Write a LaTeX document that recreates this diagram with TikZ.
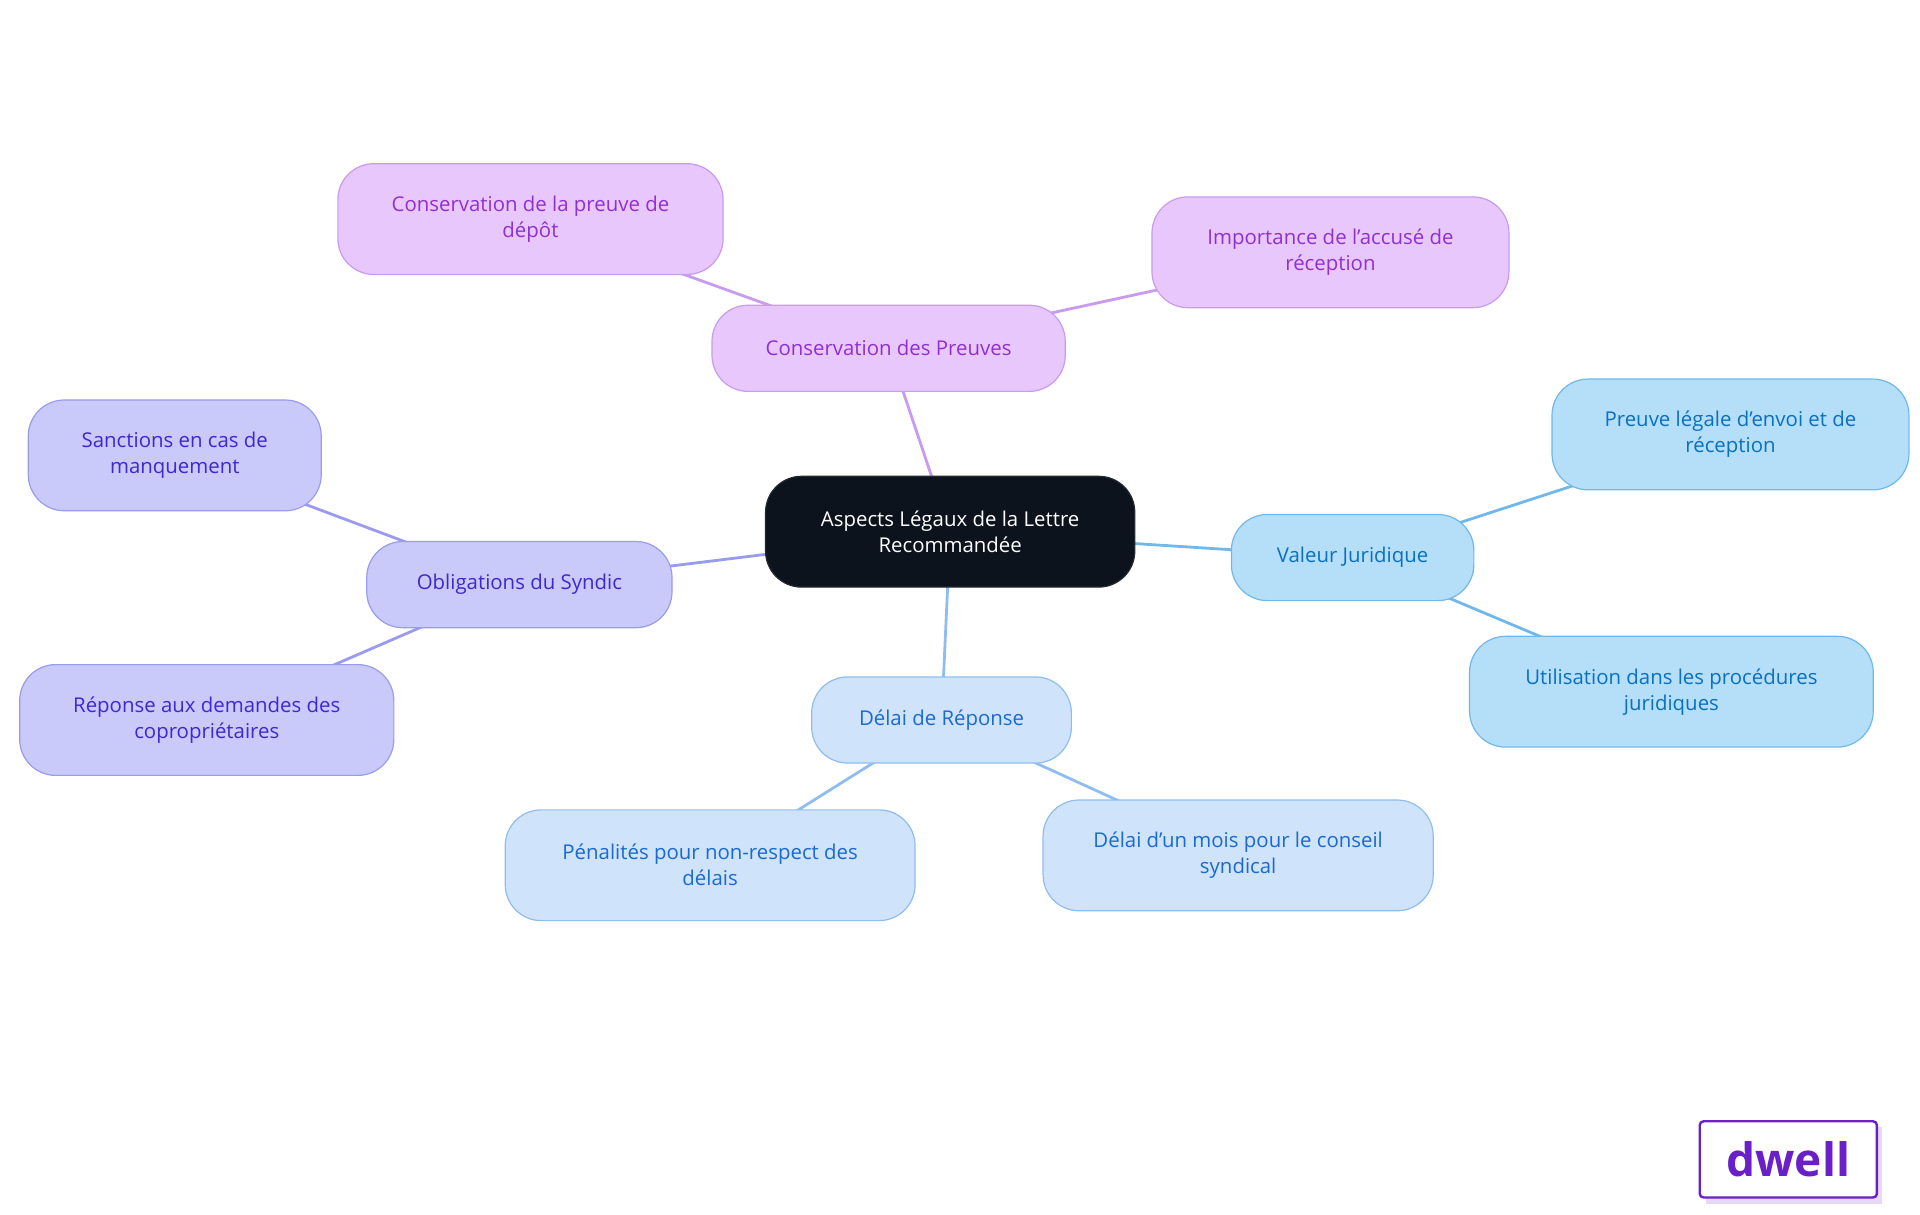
\documentclass[tikz,border=0pt]{standalone}
\usepackage{fontspec}
\setmainfont{Open Sans}
\usetikzlibrary{positioning, backgrounds}
\definecolor{rootfill}{HTML}{0D131C}
\definecolor{pinkfill}{HTML}{E8C8FC}\definecolor{pinkline}{HTML}{C89AF0}\definecolor{pinktext}{HTML}{9030D0}
\definecolor{lilacfill}{HTML}{CACAFA}\definecolor{lilacline}{HTML}{9A9AF0}\definecolor{lilactext}{HTML}{3A2AD0}
\definecolor{palefill}{HTML}{CFE3FB}\definecolor{paleline}{HTML}{90BDF0}\definecolor{paletext}{HTML}{1A6AD0}
\definecolor{skyfill}{HTML}{B5DEF9}\definecolor{skyline}{HTML}{70B8EC}\definecolor{skytext}{HTML}{0A70C0}
\definecolor{logo}{HTML}{6A1FC8}\definecolor{logoshade}{HTML}{E8D8F8}
\tikzset{
  box/.style={draw, rounded corners=18pt, align=center, inner sep=0pt, font=\fontsize{10.2}{13}\selectfont, line width=0.6pt},
  pink/.style={box, fill=pinkfill, draw=pinkline, text=pinktext},
  lilac/.style={box, fill=lilacfill, draw=lilacline, text=lilactext},
  pale/.style={box, fill=palefill, draw=paleline, text=paletext},
  sky/.style={box, fill=skyfill, draw=skyline, text=skytext},
  link/.style={line width=1.4pt},
}
\begin{document}
\begin{tikzpicture}[x=0.6154pt, y=-0.6154pt]
\useasboundingbox (0,0) rectangle (1560,987);
\node[box, fill=rootfill, draw=rootfill!80!gray, text=white, minimum width=300*0.6154pt, minimum height=90*0.6154pt] (root) at (772,432) {Aspects Légaux de la Lettre\\Recommandée};
% branch: preuves
\node[pink, minimum width=287*0.6154pt, minimum height=70*0.6154pt] (preuves) at (722,283) {Conservation des Preuves};
\node[pink, minimum width=313*0.6154pt, minimum height=90*0.6154pt] (depot) at (431,178) {Conservation de la preuve de\\dépôt};
\node[pink, minimum width=290*0.6154pt, minimum height=90*0.6154pt] (accuse) at (1081,205) {Importance de l'accusé de\\réception};
% branch: syndic
\node[lilac, minimum width=248*0.6154pt, minimum height=70*0.6154pt] (syndic) at (422,475) {Obligations du Syndic};
\node[lilac, minimum width=238*0.6154pt, minimum height=90*0.6154pt] (sanctions) at (142,370) {Sanctions en cas de\\manquement};
\node[lilac, minimum width=304*0.6154pt, minimum height=90*0.6154pt] (demandes) at (168,585) {Réponse aux demandes des\\copropriétaires};
% branch: delai
\node[pale, minimum width=211*0.6154pt, minimum height=70*0.6154pt] (delai) at (765,585) {Délai de Réponse};
\node[pale, minimum width=333*0.6154pt, minimum height=90*0.6154pt] (penalites) at (577,703) {Pénalités pour non-respect des\\délais};
\node[pale, minimum width=317*0.6154pt, minimum height=90*0.6154pt] (mois) at (1006,695) {Délai d'un mois pour le conseil\\syndical};
% branch: valeur
\node[sky, minimum width=197*0.6154pt, minimum height=70*0.6154pt] (valeur) at (1099,453) {Valeur Juridique};
\node[sky, minimum width=290*0.6154pt, minimum height=90*0.6154pt] (legale) at (1406,353) {Preuve légale d'envoi et de\\réception};
\node[sky, minimum width=328*0.6154pt, minimum height=90*0.6154pt] (procedures) at (1358,562) {Utilisation dans les procédures\\juridiques};
% connectors, behind the boxes
\begin{scope}[on background layer]
\draw[link, pinkline] (root.center) -- (preuves.center) (preuves.center) -- (depot.center) (preuves.center) -- (accuse.center);
\draw[link, lilacline] (root.center) -- (syndic.center) (syndic.center) -- (sanctions.center) (syndic.center) -- (demandes.center);
\draw[link, paleline] (root.center) -- (delai.center) (delai.center) -- (penalites.center) (delai.center) -- (mois.center);
\draw[link, skyline] (root.center) -- (valeur.center) (valeur.center) -- (legale.center) (valeur.center) -- (procedures.center);
\end{scope}
% logo
\fill[logoshade] (1386,916) rectangle (1529,978);
\node[draw=logo, fill=white, line width=1.2pt, rounded corners=2pt, minimum width=144*0.6154pt, minimum height=62*0.6154pt, text=logo, font=\fontsize{23}{23}\selectfont\bfseries] (dwell) at (1453,942) {dwell};
\end{tikzpicture}
\end{document}
